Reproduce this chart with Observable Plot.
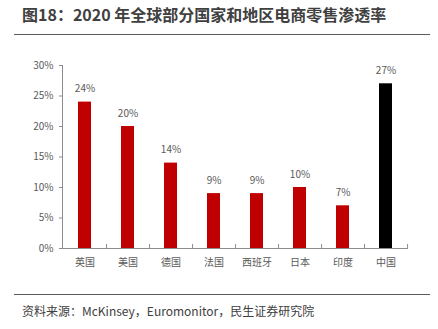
<!DOCTYPE html>
<html><head><meta charset="utf-8">
<script src="https://cdn.jsdelivr.net/npm/d3@7"></script>
<script src="https://cdn.jsdelivr.net/npm/@observablehq/plot@0.6"></script>
<style>
body{margin:0;background:#fff;font-family:"Noto Sans CJK SC","Noto Sans",sans-serif;}
#wrap{position:relative;width:438px;height:329px;overflow:hidden;}
#title{position:absolute;left:22px;top:3px;font-size:16px;line-height:23px;font-weight:bold;color:#404040;white-space:nowrap;}
#tline{position:absolute;left:14px;top:34px;width:416px;height:0;border-top:1.5px solid #5a5a5a;}
#bline{position:absolute;left:14px;top:294px;width:416px;height:0;border-top:1.5px solid #5a5a5a;}
#src{position:absolute;left:22px;top:302px;font-size:12px;line-height:17px;color:#404040;white-space:nowrap;}
#chart{position:absolute;left:0;top:40px;}
</style></head>
<body><div id="wrap">
<div id="title">图18：2020 年全球部分国家和地区电商零售渗透率</div>
<div id="tline"></div>
<div id="chart"></div>
<div id="bline"></div>
<div id="src">资料来源：McKinsey，Euromonitor，民生证券研究院</div>
</div>
<script>
const categories = ["英国","美国","德国","法国","西班牙","日本","印度","中国"];
const values = [24, 20, 14, 9, 9, 10, 7, 27];
const colors = ["#C00000","#C00000","#C00000","#C00000","#C00000","#C00000","#C00000","#000000"];
const yTicks = [0, 5, 10, 15, 20, 25, 30];

const data = categories.map((c, i) => ({cat: c, v: values[i], col: colors[i]}));
const W = 438, H = 240, ML = 62, MR = 31;
const step = (W - ML - MR) / categories.length;
const axisColor = "#8c8c8c";
const textColor = "#595959";

const chart = Plot.plot({
  width: W, height: H,
  marginLeft: ML, marginRight: MR, marginTop: 25, marginBottom: 32,
  style: {fontFamily: '"Noto Sans CJK SC","Noto Sans",sans-serif', fontSize: "10px", color: textColor, background: "transparent"},
  x: {domain: categories, paddingInner: 0.7, paddingOuter: 0.35},
  y: {domain: [0, 30]},
  marks: [
    Plot.barY(data, {x: "cat", y: "v", fill: "col"}),
    Plot.text(data, {x: "cat", y: "v", text: d => d.v + "%", lineAnchor: "bottom", dy: -10, fill: textColor, fontSize: 10}),
    Plot.axisY({ticks: yTicks, tickFormat: d => d + "%", tickSize: 3, tickPadding: 6, stroke: axisColor, fill: textColor, label: null, fontSize: 10}),
    Plot.axisX({tickSize: 0, tickPadding: 10, fill: textColor, label: null, fontSize: 10}),
    Plot.frame({anchor: "left", stroke: axisColor}),
    Plot.frame({anchor: "bottom", stroke: axisColor}),
    Plot.ruleX(data, {x: "cat", y1: 0, y2: 0, insetTop: -4, dx: step / 2, stroke: axisColor})
  ]
});
document.getElementById("chart").appendChild(chart);
</script>
</body></html>
